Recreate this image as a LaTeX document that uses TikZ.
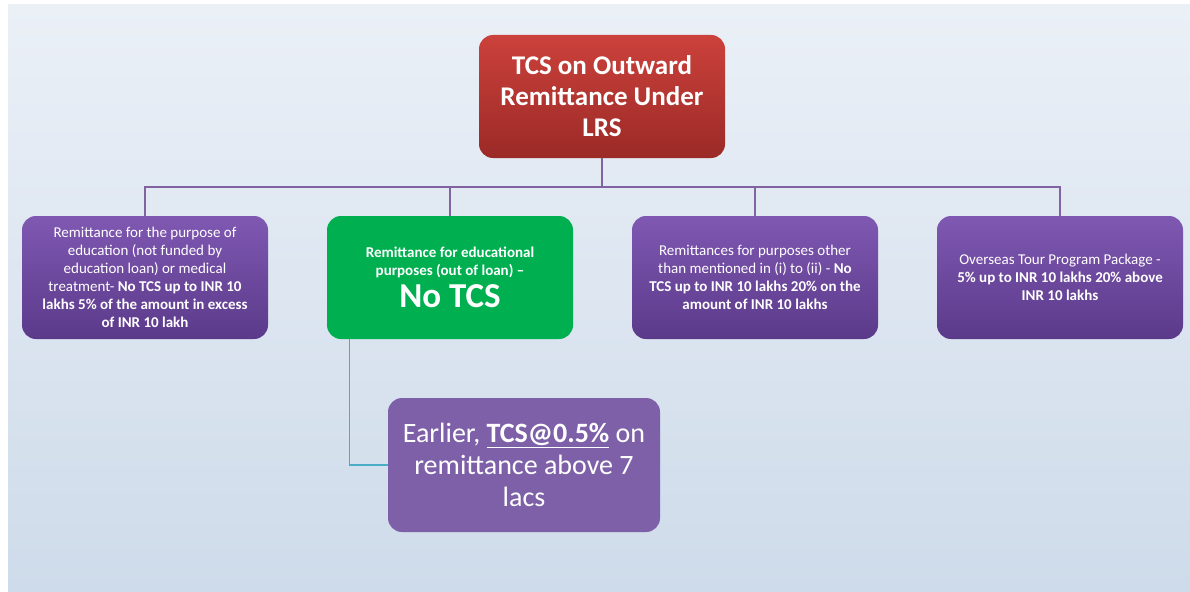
\documentclass[tikz,border=0pt]{standalone}
\usepackage{fontspec}
\setmainfont{Carlito}
\usetikzlibrary{shadings}
\definecolor{bgtop}{HTML}{EBF0F7}
\definecolor{bgbot}{HTML}{CEDBEA}
\definecolor{redtop}{HTML}{CC413B}
\definecolor{redbot}{HTML}{9B2A27}
\definecolor{purtop}{HTML}{7F58B2}
\definecolor{purbot}{HTML}{5B3A8A}
\definecolor{grn}{HTML}{00B050}
\definecolor{gcfill}{HTML}{7D60A8}
\definecolor{busline}{HTML}{8064A2}
\definecolor{tealline}{HTML}{4BACC6}
\tikzset{
  box/.style={rounded corners=14pt, align=center, inner sep=0pt, text=white},
  rootbox/.style={box, top color=redtop, bottom color=redbot, minimum width=246pt, minimum height=123pt, font=\fontsize{27}{31}\selectfont\bfseries},
  childbox/.style={box, top color=purtop, bottom color=purbot, minimum width=246pt, minimum height=123pt, font=\fontsize{15}{18}\selectfont},
  greenbox/.style={box, fill=grn, minimum width=246pt, minimum height=123pt, font=\fontsize{15}{18}\selectfont},
  gcbox/.style={box, fill=gcfill, minimum width=272pt, minimum height=134pt, font=\fontsize{28}{32}\selectfont},
  bus/.style={draw=busline, line width=1.3pt},
  tealconn/.style={draw=tealline, line width=1.3pt}
}
\begin{document}
\begin{tikzpicture}[x=1pt,y=-1pt]
\useasboundingbox (0,0) rectangle (1190,591);
\fill[white] (0,0) rectangle (1190,591);
\shade[top color=bgtop, bottom color=bgbot] (8,5) rectangle (1190,591);

\node[rootbox] (root) at (602,96.5) {TCS on Outward\\Remittance Under\\LRS};

\node[childbox] (c1) at (145,277.5) {Remittance for the purpose of\\education (not funded by\\education loan) or medical\\treatment- \textbf{No TCS up to INR 10}\\\textbf{lakhs 5\% of the amount in excess}\\\textbf{of INR 10 lakh}};
\node[greenbox] (c2) at (450,277.5) {\textbf{Remittance for educational}\\\textbf{purposes (out of loan) –}\\[5pt]{\fontsize{35}{38}\selectfont\bfseries No TCS}};
\node[childbox] (c3) at (755,277.5) {Remittances for purposes other\\than mentioned in (i) to (ii) - \textbf{No}\\\textbf{TCS up to INR 10 lakhs 20\% on the}\\\textbf{amount of INR 10 lakhs}};
\node[childbox] (c4) at (1060,277.5) {Overseas Tour Program Package -\\\textbf{5\% up to INR 10 lakhs 20\% above}\\\textbf{INR 10 lakhs}};

\node[gcbox] (gc) at (524,465) {Earlier, \underline{\textbf{TCS@0.5\%}} on\\remittance above 7\\lacs};

\coordinate (busL) at (145,187);
\draw[bus] (root.south) -- (root.south |- busL);
\draw[bus] (c1.north) |- (busL) -- (c4.north |- busL) -- (c4.north);
\draw[bus] (c2.north) -- (c2.north |- busL);
\draw[bus] (c3.north) -- (c3.north |- busL);

\coordinate (tealtop) at ([xshift=23pt]c2.south west);
\draw[tealconn] (tealtop) |- (gc.west);
\end{tikzpicture}
\end{document}
